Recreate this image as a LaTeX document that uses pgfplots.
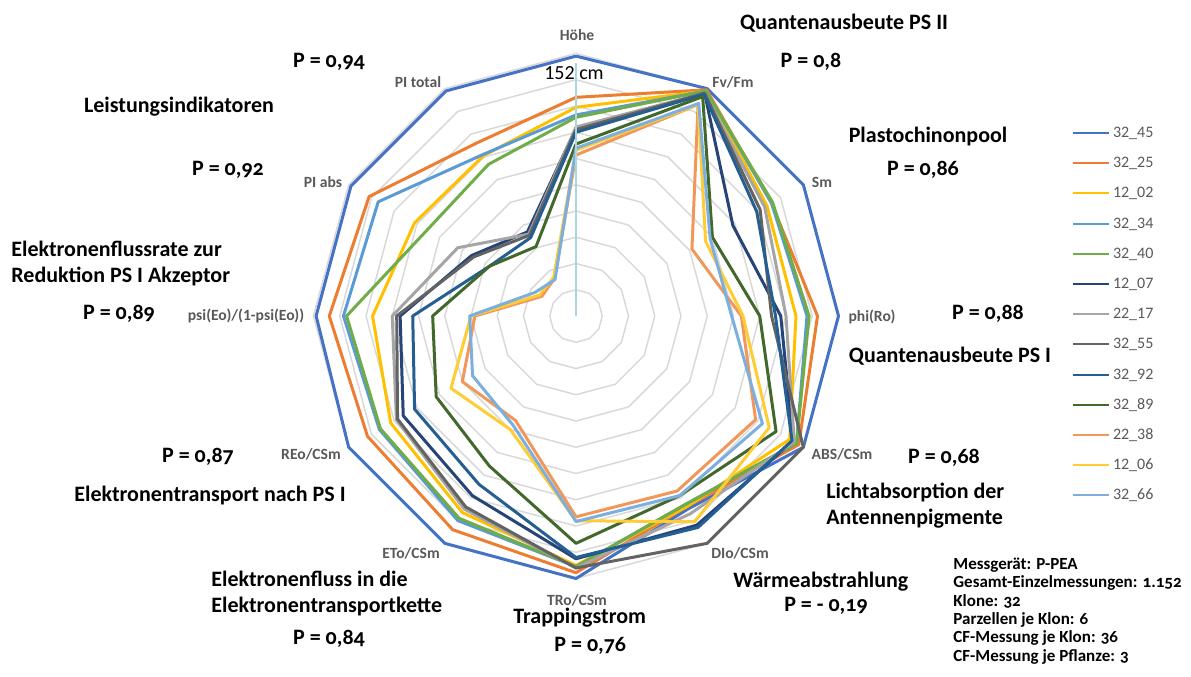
\documentclass[border=0pt]{standalone}
\usepackage{pgfplots}
\pgfplotsset{compat=1.18}
\usepackage{pgfplotstable}
\usepackage{fontspec}
\setmainfont{Carlito}
\newfontfamily\annfont[Numbers=OldStyle]{Carlito}
\definecolor{c1}{HTML}{4472C4}
\definecolor{c2}{HTML}{ED7D31}
\definecolor{c3}{HTML}{FFC000}
\definecolor{c4}{HTML}{5B9BD5}
\definecolor{c5}{HTML}{70AD47}
\definecolor{c6}{HTML}{264478}
\definecolor{c7}{HTML}{A5A5A5}
\definecolor{c8}{HTML}{636363}
\definecolor{c9}{HTML}{255E91}
\definecolor{c10}{HTML}{43682B}
\definecolor{c11}{HTML}{F1975A}
\definecolor{c12}{HTML}{FFCD33}
\definecolor{c13}{HTML}{7CAFDD}
\definecolor{gridc}{HTML}{D9D9D9}
\definecolor{labgray}{HTML}{595959}
\definecolor{axteal}{HTML}{A9D8DC}
% angle (polar, deg) and normalised values of the 13 clones
\pgfplotstableread{
ang  s1    s2    s3    s4    s5    s6    s7    s8    s9    s10   s11   s12   s13
90   0.99  0.833 0.795 0.766 0.757 0.715 0.72  0.71  0.70  0.655 0.613 0.632 0.639
60   1.00  0.995 0.99  0.99  0.99  0.98  0.98  0.98  0.975 0.965 0.93  0.93  0.935
30   1.00  0.86  0.84  0.86  0.865 0.69  0.83  0.81  0.795 0.60  0.51  0.57  0.59
0    1.00  0.92  0.838 0.88  0.888 0.78  0.80  0.745 0.76  0.70  0.63  0.636 0.593
-30  1.00  0.98  0.94  0.97  0.97  0.955 0.96  1.00  0.95  0.88  0.79  0.85  0.82
-60  0.85  0.84  0.84  0.83  0.83  0.92  0.87  1.00  0.93  0.79  0.77  0.905 0.79
-90  1.00  0.978 0.95  0.955 0.955 0.925 0.96  0.96  0.92  0.866 0.765 0.78  0.783
-120 1.00  0.94  0.865 0.90  0.89  0.79  0.85  0.84  0.74  0.66  0.46  0.50  0.48
-150 1.00  0.917 0.815 0.865 0.86  0.76  0.79  0.785 0.71  0.615 0.50  0.55  0.455
-180 0.99  0.94  0.775 0.886 0.874 0.67  0.70  0.683 0.622 0.546 0.385 0.40  0.405
-210 0.99  0.91  0.71  0.87  0.655 0.46  0.52  0.45  0.38  0.38  0.15  0.16  0.18
-240 0.99  0.76  0.705 0.71  0.667 0.37  0.36  0.355 0.345 0.305 0.165 0.17  0.16
-270 0.99  0.833 0.795 0.766 0.757 0.715 0.72  0.71  0.70  0.655 0.613 0.632 0.639
}\radar
\newcommand\catfont{\bfseries\fontsize{7.8}{9}\selectfont\color{labgray}}
\newcommand\annf{\annfont\bfseries\fontsize{11}{13}\selectfont}
\newcommand\infof{\annfont\bfseries\fontsize{8.5}{9.2}\selectfont}
\begin{document}
\begin{tikzpicture}
\useasboundingbox (0,0) rectangle (595.5pt,338pt);
\begin{axis}[
  at={(0,0)}, anchor=south west,
  scale only axis, width=595.5pt, height=338pt,
  xmin=-2.19429, xmax=2.34286, ymin=-1.37143, ymax=1.20381,
  hide axis, clip=false,
  every axis plot/.append style={line width=1.5pt, line join=round, mark=none},
  legend style={at={(axis cs:1.8895,0.7257)}, anchor=north west, draw=none, fill=none,
    font=\fontsize{8}{9}\selectfont\color{labgray}, inner sep=0pt, outer sep=0pt,
    row sep=7.6pt, column sep=1.5pt,
    nodes={inner sep=0pt, text height=6pt, text depth=1.5pt}},
  legend cell align=left,
  legend image code/.code={\draw[#1, line width=1pt] (0pt,0pt) -- (18pt,0pt);},
]
\pgfplotsinvokeforeach{0.1,0.2,0.3,0.4,0.5,0.6,0.7,0.8,0.9,1.0}{
  \addplot[gridc, line width=0.75pt, data cs=polar, forget plot] table[x=ang, y expr=#1] {\radar};
}
\addplot[c1,  data cs=polar] table[x=ang, y=s1]  {\radar}; \addlegendentry{32\_45}
\addplot[c2,  data cs=polar] table[x=ang, y=s2]  {\radar}; \addlegendentry{32\_25}
\addplot[c3,  data cs=polar] table[x=ang, y=s3]  {\radar}; \addlegendentry{12\_02}
\addplot[c4,  data cs=polar] table[x=ang, y=s4]  {\radar}; \addlegendentry{32\_34}
\addplot[c5,  data cs=polar] table[x=ang, y=s5]  {\radar}; \addlegendentry{32\_40}
\addplot[c6,  data cs=polar] table[x=ang, y=s6]  {\radar}; \addlegendentry{12\_07}
\addplot[c7,  data cs=polar] table[x=ang, y=s7]  {\radar}; \addlegendentry{22\_17}
\addplot[c8,  data cs=polar] table[x=ang, y=s8]  {\radar}; \addlegendentry{32\_55}
\addplot[c9,  data cs=polar] table[x=ang, y=s9]  {\radar}; \addlegendentry{32\_92}
\addplot[c10, data cs=polar] table[x=ang, y=s10] {\radar}; \addlegendentry{32\_89}
\addplot[c11, data cs=polar] table[x=ang, y=s11] {\radar}; \addlegendentry{22\_38}
\addplot[c12, data cs=polar] table[x=ang, y=s12] {\radar}; \addlegendentry{12\_06}
\addplot[c13, data cs=polar] table[x=ang, y=s13] {\radar}; \addlegendentry{32\_66}
\draw[axteal, line width=1.4pt] (axis cs:0,0) -- (axis cs:0,0.963);
\end{axis}
\begin{scope}[shift={(0,338pt)}, x=0.5pt, y=-0.5pt]
 % category labels
 \node[font=\catfont] at (577,35) {Höhe};
 \node[font=\catfont] at (733,82) {Fv/Fm};
 \node[font=\catfont] at (822,182) {Sm};
 \node[font=\catfont] at (872,317) {phi(Ro)};
 \node[font=\catfont] at (842,454) {ABS/CSm};
 \node[font=\catfont] at (740,553) {DIo/CSm};
 \node[font=\catfont] at (577,600) {TRo/CSm};
 \node[font=\catfont] at (411,553) {ETo/CSm};
 \node[font=\catfont] at (311,454) {REo/CSm};
 \node[font=\catfont] at (246,316) {psi(Eo)/(1-psi(Eo))};
 \node[font=\catfont] at (323,182) {PI abs};
 \node[font=\catfont] at (418,82) {PI total};
 \node[font=\fontsize{10}{12}\selectfont] at (574,73) {152 cm};
 % annotations right
 \node[font=\annf, anchor=mid] at (844,25) {Quantenausbeute PS II};
 \node[font=\annf, anchor=mid] at (811,63) {P = 0,8};
 \node[font=\annf, anchor=mid] at (928,138) {Plastochinonpool};
 \node[font=\annf, anchor=mid] at (923,171) {P = 0,86};
 \node[font=\annf, anchor=mid] at (988,315) {P = 0,88};
 \node[font=\annf, anchor=mid] at (950,358) {Quantenausbeute PS I};
 \node[font=\annf, anchor=mid] at (944,459) {P = 0,68};
 \node[font=\annf, anchor=mid west, inner sep=0pt] at (826,494) {Lichtabsorption der};
 \node[font=\annf, anchor=mid west, inner sep=0pt] at (826,520) {Antennenpigmente};
 \node[font=\annf, anchor=mid west, inner sep=0pt] at (733,583) {Wärmeabstrahlung};
 \node[font=\annf, anchor=mid] at (826,607) {P = - 0,19};
 % annotations left
 \node[font=\annf, anchor=mid] at (329,63) {P = 0,94};
 \node[font=\annf, anchor=mid] at (179,108) {Leistungsindikatoren};
 \node[font=\annf, anchor=mid] at (228,171) {P = 0,92};
 \node[font=\annf, anchor=mid west, inner sep=0pt] at (11,252) {Elektronenflussrate zur};
 \node[font=\annf, anchor=mid west, inner sep=0pt] at (11,278) {Reduktion PS I Akzeptor};
 \node[font=\annf, anchor=mid] at (119,315) {P = 0,89};
 \node[font=\annf, anchor=mid] at (198,458) {P = 0,87};
 \node[font=\annf, anchor=mid] at (210,497) {Elektronentransport nach PS I};
 \node[font=\annf, anchor=mid west, inner sep=0pt] at (211,582) {Elektronenfluss in die};
 \node[font=\annf, anchor=mid west, inner sep=0pt] at (211,608) {Elektronentransportkette};
 \node[font=\annf, anchor=mid] at (329,640) {P = 0,84};
 \node[font=\annf, anchor=mid west, inner sep=0pt] at (513,619) {Trappingstrom};
 \node[font=\annf, anchor=mid west, inner sep=0pt] at (554,647) {P = 0,76};
 % info box
 \node[font=\infof, anchor=mid west, inner sep=0pt] at (953,565) {Messgerät: P-PEA};
 \node[font=\infof, anchor=mid west, inner sep=0pt] at (953,583) {Gesamt-Einzelmessungen: 1.152};
 \node[font=\infof, anchor=mid west, inner sep=0pt] at (953,602) {Klone: 32};
 \node[font=\infof, anchor=mid west, inner sep=0pt] at (953,620) {Parzellen je Klon: 6};
 \node[font=\infof, anchor=mid west, inner sep=0pt] at (953,638) {CF-Messung je Klon: 36};
 \node[font=\infof, anchor=mid west, inner sep=0pt] at (953,657) {CF-Messung je Pflanze: 3};
\end{scope}
\end{tikzpicture}
\end{document}
